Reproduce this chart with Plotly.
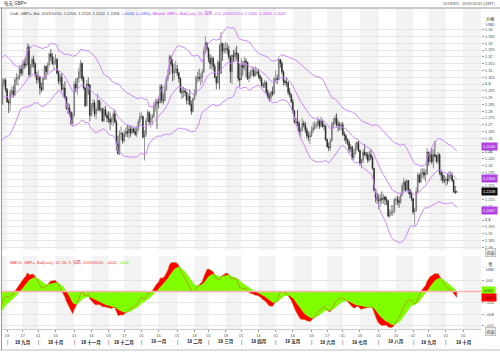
import pandas as pd
import numpy as np
import plotly.graph_objects as go

W, H = 500, 352

# ---------------- DATA (GBP= daily) ----------------
# warm-up closes Jul 2 - Aug 2 2018 (only feed the indicators)
warm_close = [1.3130, 1.3170, 1.3210, 1.3220, 1.3280, 1.3290, 1.3240, 1.3200, 1.3190, 1.3230,
              1.3240, 1.3100, 1.3040, 1.2990, 1.3140, 1.3110, 1.3140, 1.3170, 1.3110, 1.3110,
              1.3130, 1.3120, 1.3130, 1.2990]

c_2018_08 = [1.3000, 1.2930, 1.2935, 1.2890, 1.2820, 1.2765, 1.2790, 1.2750, 1.2700, 1.2720, 1.2730,
             1.2800, 1.2900, 1.2890, 1.2830, 1.2840, 1.2900, 1.2850, 1.3000, 1.3030, 1.2960]
h_2018_08 = [1.3040, 1.3010, 1.2960, 1.2950, 1.2900, 1.2830, 1.2810, 1.2810, 1.2760, 1.2750, 1.2760,
             1.2810, 1.2920, 1.2930, 1.2900, 1.2870, 1.2920, 1.2920, 1.3040, 1.3045, 1.3040]
l_2018_08 = [1.2960, 1.2920, 1.2890, 1.2880, 1.2810, 1.2720, 1.2730, 1.2730, 1.2660, 1.2680, 1.2700,
             1.2720, 1.2790, 1.2860, 1.2810, 1.2790, 1.2830, 1.2830, 1.2850, 1.2980, 1.2940]

c_2018_09 = [1.2870, 1.2860, 1.2940, 1.2950, 1.2920, 1.3030, 1.3040, 1.3050, 1.3110, 1.3080,
             1.3150, 1.3140, 1.3140, 1.3270, 1.3070, 1.3130, 1.3180, 1.3150, 1.3070, 1.3030]
h_2018_09 = [1.2970, 1.2890, 1.2960, 1.2980, 1.2990, 1.3050, 1.3080, 1.3070, 1.3140, 1.3140,
             1.3170, 1.3180, 1.3200, 1.3298, 1.3290, 1.3150, 1.3200, 1.3210, 1.3160, 1.3090]
l_2018_09 = [1.2860, 1.2786, 1.2800, 1.2900, 1.2900, 1.2910, 1.2990, 1.2990, 1.3030, 1.3060,
             1.3060, 1.3110, 1.3120, 1.3140, 1.3050, 1.3060, 1.3120, 1.3120, 1.3050, 1.3000]

c_2018_10 = [1.3050, 1.2970, 1.2960, 1.3040, 1.3130, 1.3090, 1.3140, 1.3220, 1.3200, 1.3150,
             1.3160, 1.3180, 1.3080, 1.3020, 1.3050, 1.2960, 1.2970, 1.2900, 1.2820, 1.2820,
             1.2790, 1.2710, 1.2770]
h_2018_10 = [1.3100, 1.3060, 1.3010, 1.3050, 1.3140, 1.3130, 1.3160, 1.3230, 1.3257, 1.3230,
             1.3200, 1.3220, 1.3190, 1.3100, 1.3070, 1.3080, 1.3000, 1.3020, 1.2910, 1.2860,
             1.2850, 1.2800, 1.2790]
l_2018_10 = [1.3010, 1.2920, 1.2940, 1.2950, 1.3030, 1.3030, 1.3070, 1.3130, 1.3170, 1.3140,
             1.3100, 1.3140, 1.3070, 1.3000, 1.2990, 1.2950, 1.2900, 1.2890, 1.2810, 1.2780,
             1.2770, 1.2696, 1.2700]

c_2018_11 = [1.3000, 1.2970, 1.3040, 1.3090, 1.3150, 1.3040, 1.2970, 1.2840, 1.3000, 1.2990, 1.2770,
             1.2830, 1.2860, 1.2780, 1.2810, 1.2880, 1.2810, 1.2820, 1.2730, 1.2810, 1.2770, 1.2750]
h_2018_11 = [1.3020, 1.3040, 1.3050, 1.3120, 1.3176, 1.3160, 1.3060, 1.2980, 1.3030, 1.3050, 1.3000,
             1.2860, 1.2890, 1.2880, 1.2830, 1.2930, 1.2880, 1.2870, 1.2820, 1.2830, 1.2840, 1.2790]
l_2018_11 = [1.2760, 1.2940, 1.2920, 1.3010, 1.3040, 1.3020, 1.2960, 1.2830, 1.2840, 1.2920, 1.2724,
             1.2760, 1.2800, 1.2760, 1.2740, 1.2800, 1.2800, 1.2790, 1.2720, 1.2720, 1.2760, 1.2720]

c_2018_12 = [1.2740, 1.2720, 1.2740, 1.2780, 1.2720, 1.2560, 1.2490, 1.2630, 1.2640, 1.2580,
             1.2630, 1.2650, 1.2640, 1.2670, 1.2640, 1.2670, 1.2650, 1.2630, 1.2670, 1.2720, 1.2760]
h_2018_12 = [1.2800, 1.2790, 1.2760, 1.2800, 1.2810, 1.2740, 1.2620, 1.2660, 1.2690, 1.2640,
             1.2660, 1.2680, 1.2700, 1.2700, 1.2690, 1.2690, 1.2680, 1.2680, 1.2690, 1.2740, 1.2790]
l_2018_12 = [1.2710, 1.2660, 1.2700, 1.2690, 1.2710, 1.2510, 1.2480, 1.2477, 1.2590, 1.2560,
             1.2570, 1.2610, 1.2610, 1.2600, 1.2610, 1.2630, 1.2640, 1.2620, 1.2610, 1.2650, 1.2700]

c_2019_01 = [1.2760, 1.2610, 1.2630, 1.2730, 1.2790, 1.2720, 1.2750, 1.2760, 1.2840, 1.2870, 1.2860,
             1.2860, 1.2980, 1.2880, 1.2880, 1.2960, 1.3040, 1.3070, 1.3200, 1.3150, 1.3080, 1.3100, 1.3110]
h_2019_01 = [1.2790, 1.2770, 1.2660, 1.2750, 1.2810, 1.2800, 1.2780, 1.2780, 1.2870, 1.2890, 1.2890,
             1.2900, 1.3000, 1.3000, 1.2930, 1.2990, 1.3060, 1.3110, 1.3215, 1.3210, 1.3180, 1.3150, 1.3170]
l_2019_01 = [1.2740, 1.2600, 1.2438, 1.2610, 1.2720, 1.2700, 1.2680, 1.2700, 1.2750, 1.2800, 1.2670,
             1.2820, 1.2860, 1.2860, 1.2850, 1.2870, 1.2950, 1.3020, 1.3070, 1.3130, 1.3020, 1.3030, 1.3080]

c_2019_02 = [1.3080, 1.3040, 1.2940, 1.2940, 1.2950, 1.2940, 1.2880, 1.2910, 1.2850, 1.2800,
             1.2890, 1.2930, 1.3050, 1.3050, 1.3040, 1.3050, 1.3090, 1.3240, 1.3300, 1.3260]
h_2019_02 = [1.3140, 1.3090, 1.3050, 1.2980, 1.2980, 1.2970, 1.2940, 1.2930, 1.2960, 1.2880,
             1.2900, 1.2960, 1.3060, 1.3090, 1.3110, 1.3080, 1.3110, 1.3270, 1.3350, 1.3310]
l_2019_02 = [1.3060, 1.3010, 1.2930, 1.2890, 1.2900, 1.2910, 1.2850, 1.2850, 1.2840, 1.2773,
             1.2790, 1.2880, 1.2910, 1.3010, 1.3020, 1.2990, 1.3010, 1.3080, 1.3220, 1.3240]

c_2019_03 = [1.3190, 1.3150, 1.3190, 1.3130, 1.3050, 1.3010, 1.3160, 1.3080, 1.3300, 1.3240, 1.3260,
             1.3260, 1.3250, 1.3200, 1.3090, 1.3210, 1.3200, 1.3230, 1.3220, 1.3040, 1.3030]
h_2019_03 = [1.3270, 1.3220, 1.3210, 1.3200, 1.3150, 1.3060, 1.3180, 1.3290, 1.3381, 1.3300, 1.3300,
             1.3310, 1.3300, 1.3280, 1.3210, 1.3220, 1.3250, 1.3260, 1.3280, 1.3230, 1.3150]
l_2019_03 = [1.3160, 1.3110, 1.3110, 1.3100, 1.3040, 1.2960, 1.3000, 1.2960, 1.3070, 1.3170, 1.3220,
             1.3230, 1.3220, 1.3180, 1.3010, 1.3000, 1.3160, 1.3170, 1.3180, 1.3020, 1.2978]

c_2019_04 = [1.3140, 1.3120, 1.3170, 1.3160, 1.3040, 1.3060, 1.3090, 1.3100, 1.3060, 1.3080, 1.3090,
             1.3060, 1.3040, 1.2990, 1.2990, 1.3010, 1.2940, 1.2900, 1.2900, 1.2940, 1.2930, 1.3040]
h_2019_04 = [1.3190, 1.3170, 1.3200, 1.3190, 1.3130, 1.3090, 1.3110, 1.3130, 1.3120, 1.3130, 1.3120,
             1.3110, 1.3070, 1.3050, 1.3010, 1.3030, 1.3020, 1.2960, 1.2930, 1.2950, 1.2980, 1.3050]
l_2019_04 = [1.3040, 1.3060, 1.3100, 1.3050, 1.3030, 1.3010, 1.3040, 1.3060, 1.3050, 1.3060, 1.3070,
             1.3040, 1.3020, 1.2980, 1.2970, 1.2970, 1.2930, 1.2890, 1.2870, 1.2880, 1.2910, 1.2920]

c_2019_05 = [1.3040, 1.3030, 1.3180, 1.3150, 1.3090, 1.3020, 1.3010, 1.3010, 1.2940, 1.2920, 1.2870, 1.2800,
             1.2720, 1.2720, 1.2710, 1.2650, 1.2660, 1.2710, 1.2700, 1.2660, 1.2620, 1.2610, 1.2620]
h_2019_05 = [1.3100, 1.3070, 1.3190, 1.3180, 1.3170, 1.3100, 1.3030, 1.3050, 1.3020, 1.2970, 1.2930, 1.2890,
             1.2810, 1.2750, 1.2810, 1.2730, 1.2680, 1.2750, 1.2730, 1.2720, 1.2680, 1.2650, 1.2650]
l_2019_05 = [1.3010, 1.3000, 1.3030, 1.3120, 1.3070, 1.2990, 1.2990, 1.2980, 1.2920, 1.2900, 1.2860, 1.2780,
             1.2710, 1.2700, 1.2690, 1.2630, 1.2610, 1.2650, 1.2680, 1.2640, 1.2600, 1.2580, 1.2559]

c_2019_06 = [1.2660, 1.2680, 1.2700, 1.2700, 1.2730, 1.2690, 1.2730, 1.2690, 1.2690, 1.2590,
             1.2540, 1.2530, 1.2580, 1.2700, 1.2720, 1.2750, 1.2700, 1.2700, 1.2690, 1.2700]
h_2019_06 = [1.2690, 1.2720, 1.2730, 1.2720, 1.2760, 1.2740, 1.2760, 1.2740, 1.2710, 1.2700,
             1.2600, 1.2570, 1.2600, 1.2720, 1.2750, 1.2770, 1.2784, 1.2730, 1.2720, 1.2720]
l_2019_06 = [1.2610, 1.2640, 1.2660, 1.2670, 1.2680, 1.2670, 1.2680, 1.2680, 1.2660, 1.2580,
             1.2530, 1.2506, 1.2510, 1.2580, 1.2670, 1.2700, 1.2680, 1.2650, 1.2660, 1.2660]

c_2019_07 = [1.2630, 1.2620, 1.2590, 1.2570, 1.2520, 1.2540, 1.2460, 1.2490, 1.2530, 1.2570, 1.2510, 1.2420,
             1.2440, 1.2500, 1.2480, 1.2480, 1.2440, 1.2480, 1.2460, 1.2380, 1.2220, 1.2170, 1.2150]
h_2019_07 = [1.2720, 1.2650, 1.2630, 1.2600, 1.2590, 1.2560, 1.2540, 1.2520, 1.2570, 1.2580, 1.2580, 1.2520,
             1.2450, 1.2520, 1.2560, 1.2500, 1.2500, 1.2510, 1.2520, 1.2470, 1.2380, 1.2230, 1.2200]
l_2019_07 = [1.2620, 1.2580, 1.2560, 1.2550, 1.2490, 1.2500, 1.2440, 1.2440, 1.2480, 1.2510, 1.2500, 1.2400,
             1.2380, 1.2420, 1.2470, 1.2450, 1.2420, 1.2430, 1.2440, 1.2370, 1.2210, 1.2130, 1.2119]

c_2019_08 = [1.2140, 1.2160, 1.2150, 1.2170, 1.2150, 1.2140, 1.2030, 1.2050, 1.2060, 1.2060, 1.2150,
             1.2150, 1.2140, 1.2130, 1.2180, 1.2250, 1.2280, 1.2220, 1.2290, 1.2220, 1.2190, 1.2160]
h_2019_08 = [1.2190, 1.2190, 1.2210, 1.2190, 1.2180, 1.2170, 1.2150, 1.2080, 1.2110, 1.2110, 1.2160,
             1.2170, 1.2180, 1.2170, 1.2200, 1.2270, 1.2310, 1.2290, 1.2300, 1.2290, 1.2230, 1.2210]
l_2019_08 = [1.2080, 1.2100, 1.2120, 1.2120, 1.2110, 1.2110, 1.2020, 1.2015, 1.2030, 1.2030, 1.2050,
             1.2110, 1.2110, 1.2090, 1.2120, 1.2180, 1.2210, 1.2210, 1.2210, 1.2190, 1.2160, 1.2140]

c_2019_09 = [1.2060, 1.2070, 1.2210, 1.2330, 1.2280, 1.2350, 1.2350, 1.2330, 1.2340, 1.2500, 1.2430,
             1.2480, 1.2430, 1.2480, 1.2470, 1.2430, 1.2480, 1.2350, 1.2330, 1.2290, 1.2290]
h_2019_09 = [1.2160, 1.2090, 1.2240, 1.2350, 1.2340, 1.2380, 1.2380, 1.2380, 1.2370, 1.2530, 1.2480,
             1.2500, 1.2530, 1.2520, 1.2582, 1.2480, 1.2500, 1.2490, 1.2370, 1.2350, 1.2330]
l_2019_09 = [1.2040, 1.1958, 1.2060, 1.2200, 1.2270, 1.2270, 1.2310, 1.2300, 1.2280, 1.2330, 1.2400,
             1.2420, 1.2410, 1.2380, 1.2460, 1.2420, 1.2410, 1.2330, 1.2290, 1.2270, 1.2270]

c_2019_10 = [1.2300, 1.2290, 1.2330, 1.2330, 1.2290, 1.2210, 1.2204, 1.2208]
h_2019_10 = [1.2320, 1.2340, 1.2360, 1.2360, 1.2350, 1.2300, 1.2250, 1.2218]
l_2019_10 = [1.2250, 1.2260, 1.2280, 1.2300, 1.2280, 1.2200, 1.2190, 1.2202]

# values printed in the chart legends / axis tags
bb_last = [1.2540, 1.2303, 1.2067]
macd_last, signal_last = -0.0022, 0.0002

price_tick_labels = ["1.34", "1.335", "1.33", "1.325", "1.32", "1.315", "1.31", "1.305", "1.3",
                     "1.295", "1.29", "1.285", "1.28", "1.275", "1.27", "1.265", "1.26", "1.255",
                     "1.25", "1.245", "1.24", "1.235", "1.23", "1.225", "1.22", "1.215", "1.21",
                     "1.205", "1.2", "1.195", "1.19", "1.185", "1.18"]
bold_price_labels = ["1.3", "1.25", "1.2"]
covered_price_labels = ["1.255", "1.23", "1.22", "1.205"]   # hidden under the value tags
macd_tick_labels = [".004", "-.004", "-.008", "-.012"]

day_tick_dates = ["2018-09-03", "2018-09-17", "2018-10-01", "2018-10-16", "2018-11-01", "2018-11-16",
                  "2018-12-03", "2018-12-17", "2019-01-01", "2019-01-16", "2019-02-01", "2019-02-18",
                  "2019-03-01", "2019-03-18", "2019-04-01", "2019-04-16", "2019-05-01", "2019-05-16",
                  "2019-06-03", "2019-06-17", "2019-07-01", "2019-07-16", "2019-08-01", "2019-08-16",
                  "2019-09-02", "2019-09-16", "2019-10-01", "2019-10-16"]
month_labels = ["18 九月", "18 十月", "18 十一月", "18 十二月", "19 一月", "19 二月", "19 三月",
                "19 四月", "19 五月", "19 六月", "19 七月", "19 八月", "19 九月", "19 十月"]

# ---------------- assemble ----------------
months = ["2018_08", "2018_09", "2018_10", "2018_11", "2018_12", "2019_01", "2019_02", "2019_03",
          "2019_04", "2019_05", "2019_06", "2019_07", "2019_08", "2019_09", "2019_10"]
g = globals()
start, end = pd.Timestamp("2018-08-03"), pd.Timestamp("2019-10-10")
errs = []
close, high, low = [], [], []
for m in months:
    y, mo = m.split("_")
    ms = max(pd.Timestamp(f"{y}-{mo}-01"), start)
    me = min(pd.Timestamp(f"{y}-{mo}-01") + pd.offsets.MonthEnd(0), end)
    n = len(pd.bdate_range(ms, me))
    for k in "chl":
        if len(g[f"{k}_{m}"]) != n:
            errs.append(f"{k}_{m}: {len(g[f'{k}_{m}'])} vs {n}")
    close += g[f"c_{m}"]; high += g[f"h_{m}"]; low += g[f"l_{m}"]
if errs:
    raise ValueError("; ".join(errs))

dates = pd.bdate_range(start, end)
warm_dates = pd.bdate_range("2018-07-02", "2018-08-02")
opens = [warm_close[-1]] + close[:-1]

allc = pd.Series(warm_close + close, index=warm_dates.append(dates))
mid = allc.ewm(span=20, adjust=False).mean()
sd = np.sqrt(((allc - mid) ** 2).rolling(20, min_periods=1).mean())
upper, lower = mid + 2 * sd, mid - 2 * sd
macd = allc.ewm(span=12, adjust=False).mean() - allc.ewm(span=26, adjust=False).mean()
signal = macd.ewm(span=9, adjust=False).mean()
vis = allc.index >= pd.Timestamp("2018-08-20")
vd = allc.index[vis]

# ---------------- figure ----------------
def py(p):
    return 1 - p / H

def pxx(p):
    return p / W

X0, X1 = pxx(2), pxx(481)
MAIN = [py(250), py(8)]
SUB = [py(329), py(256)]
yr_main = [1.3 - (250 - 84) / 1360.0, 1.3 + (84 - 8) / 1360.0]
yr_sub = [-(329 - 291.5) / 2825.0, (291.5 - 256) / 2825.0]
xrange = ["2018-08-28 18:00", "2019-10-31 12:00"]
rb = [dict(bounds=["sat", "mon"])]

fig = go.Figure()
fig.add_trace(go.Scatter(x=vd, y=macd[vis], mode="lines", line=dict(width=0, color="#ff0000"),
                         fill="tozeroy", fillcolor="#ff0000", xaxis="x2", yaxis="y2", hoverinfo="skip"))
fig.add_trace(go.Scatter(x=vd, y=signal[vis], mode="lines", line=dict(width=0, color="#80ff00"),
                         fill="tozeroy", fillcolor="#80ff00", xaxis="x2", yaxis="y2", hoverinfo="skip"))
fig.add_trace(go.Scatter(x=vd, y=macd[vis], mode="lines", line=dict(width=0.6, color="#d06010"),
                         xaxis="x2", yaxis="y2", hoverinfo="skip"))

for s in (upper, mid, lower):
    fig.add_trace(go.Scatter(x=vd, y=s[vis], mode="lines", line=dict(width=1, color="#cc88ff"),
                             xaxis="x", yaxis="y", hoverinfo="skip"))

fig.add_trace(go.Candlestick(x=dates, open=opens, high=high, low=low, close=close,
                             increasing=dict(line=dict(color="#666666", width=0.7), fillcolor="#b4b4b4"),
                             decreasing=dict(line=dict(color="#222222", width=0.7), fillcolor="#222222"),
                             whiskerwidth=0, xaxis="x", yaxis="y", hoverinfo="skip"))

# alternating half-month bands
month_starts = [d for d in day_tick_dates if d[-2:] in ("01", "02", "03")]
mid_ticks = [d for d in day_tick_dates if d not in month_starts]
band_starts = ["2018-08-16"] + mid_ticks
band_ends = month_starts + ["2019-11-01"]
shapes = []
for a, b in zip(band_starts, band_ends):
    for yd in ("y domain", "y2 domain"):
        shapes.append(dict(type="rect", xref="x", yref=yd, x0=a, x1=b, y0=0, y1=1,
                           fillcolor="#f3f3f3", line=dict(width=0), layer="below"))
# zero line of MACD
shapes.append(dict(type="line", xref="x domain", yref="y2", x0=0, x1=1, y0=0, y1=0,
                   line=dict(color="#ffb0b0", width=1.5)))
# frame lines
shapes.append(dict(type="line", xref="paper", yref="paper", x0=0, x1=1, y0=py(8), y1=py(8),
                   line=dict(color="#999999", width=1)))
shapes.append(dict(type="line", xref="paper", yref="paper", x0=pxx(1.5), x1=pxx(1.5), y0=py(8), y1=py(350),
                   line=dict(color="#999999", width=1)))
shapes.append(dict(type="line", xref="paper", yref="paper", x0=0, x1=1, y0=py(350), y1=py(350),
                   line=dict(color="#bbbbbb", width=1)))

FONT = "Liberation Sans, Noto Sans CJK SC, sans-serif"
ann = []
ann.append(dict(xref="paper", yref="paper", x=pxx(2), y=py(3.5), text="每天 GBP=", showarrow=False,
                xanchor="left", yanchor="middle", font=dict(size=4.5, color="#333333")))
ann.append(dict(xref="paper", yref="paper", x=pxx(497), y=py(3.5), text="2018/8/3 - 2019/10/31 (GMT)",
                showarrow=False, xanchor="right", yanchor="middle", font=dict(size=4, color="#555555")))
chg = close[-1] - opens[-1]
legend_main = (f"Cndl, GBP=, Bid, 2019/10/10, {opens[-1]:.4f}, {high[-1]:.4f}, {low[-1]:.4f}, {close[-1]:.4f}, "
               f"<span style='color:#3344ff'>+{chg:.4f}".replace("+0.", "+.") + ", (+.03%),</span> "
               f"<span style='color:#cc44ff'>BBand, GBP=, Bid(Last), 20, 指数, 2.0, 2019/10/10, "
               f"{bb_last[0]:.4f}, {bb_last[1]:.4f}, {bb_last[2]:.4f}</span>")
ann.append(dict(xref="paper", yref="paper", x=pxx(8), y=py(13), text=legend_main, showarrow=False,
                xanchor="left", yanchor="middle", font=dict(size=4, color="#444444")))
legend_sub = ("<span style='color:#ee3333'>MACD, GBP=, Bid(Last), 12, 26, 9, 指数, 2019/10/10, "
              f"{macd_last:.4f}".replace("-0.", "-.") + ",</span> "
              f"<span style='color:#66dd00'>{signal_last:.4f}".replace("0.", ".") + "</span>")
ann.append(dict(xref="paper", yref="paper", x=pxx(8), y=py(262), text=legend_sub, showarrow=False,
                xanchor="left", yanchor="middle", font=dict(size=4, color="#ee3333")))

ann.append(dict(xref="paper", yref="paper", x=pxx(490), y=py(21), text="价格<br>USD", showarrow=False,
                xanchor="center", yanchor="middle", font=dict(size=4, color="#333333")))
ann.append(dict(xref="paper", yref="paper", x=pxx(490), y=py(266), text="值<br>USD", showarrow=False,
                xanchor="center", yanchor="middle", font=dict(size=4, color="#333333")))
for yy in (252.5, 331):
    ann.append(dict(xref="paper", yref="paper", x=pxx(490), y=py(yy), text="自适", showarrow=False,
                    xanchor="center", yanchor="middle", font=dict(size=4, color="#333333"),
                    bgcolor="#eeeeee", bordercolor="#999999", borderwidth=0.5, borderpad=1))

for v in bb_last:
    ann.append(dict(xref="paper", yref="y", x=X1, y=v, text=f"{v:.4f}", showarrow=False,
                    xanchor="left", yanchor="middle", font=dict(size=4, color="#ffffff"),
                    bgcolor="#b040e0", borderpad=1))
ann.append(dict(xref="paper", yref="y", x=X1, y=close[-1], text=f"{close[-1]:.4f}", showarrow=False,
                xanchor="left", yanchor="middle", font=dict(size=4, color="#ffffff"),
                bgcolor="#111111", borderpad=1))
ann.append(dict(xref="paper", yref="y2", x=X1, y=signal_last, text=f"{signal_last:.4f}".replace("0.", "."),
                showarrow=False, xanchor="left", yanchor="middle", font=dict(size=4, color="#224400"),
                bgcolor="#80ff00", borderpad=1))
ann.append(dict(xref="paper", yref="y2", x=X1, y=macd_last, text=f"{macd_last:.4f}".replace("-0.", "-."),
                showarrow=False, xanchor="left", yanchor="middle", font=dict(size=4, color="#660000"),
                bgcolor="#ff0000", borderpad=1))

for d in month_starts:
    ann.append(dict(xref="x2", yref="paper", x=d, y=py(342), text="|", showarrow=False,
                    xanchor="center", yanchor="middle", font=dict(size=5, color="#333333")))
for d, t in zip(mid_ticks, month_labels):
    ann.append(dict(xref="x2", yref="paper", x=d, y=py(342), text=f"<b>{t}</b>", showarrow=False,
                    xanchor="center", yanchor="middle", font=dict(size=4.5, color="#222222")))

price_tickvals = [float(s) for s in price_tick_labels]
price_ticktext = ["" if s in covered_price_labels else (f"<b>{s}</b>" if s in bold_price_labels else s)
                  for s in price_tick_labels]

fig.update_layout(
    width=W, height=H, margin=dict(l=0, r=0, t=0, b=0),
    paper_bgcolor="white", plot_bgcolor="white", showlegend=False,
    font=dict(family=FONT, size=4, color="#555555"),
    shapes=shapes, annotations=ann,
    xaxis=dict(domain=[X0, X1], anchor="y", range=xrange, rangebreaks=rb, showticklabels=False,
               showgrid=False, zeroline=False, rangeslider=dict(visible=False), ticks=""),
    xaxis2=dict(domain=[X0, X1], anchor="y2", range=xrange, rangebreaks=rb, matches="x",
                tickmode="array", tickvals=day_tick_dates, ticktext=[d[-2:] for d in day_tick_dates],
                ticks="outside", ticklen=2, tickcolor="#999999", tickfont=dict(size=4, color="#555555"),
                showgrid=False, zeroline=False, showline=True, linecolor="#cccccc", linewidth=1),
    yaxis=dict(domain=MAIN, range=yr_main, side="right", tickmode="array", tickvals=price_tickvals,
               ticktext=price_ticktext, ticks="outside", ticklen=2, tickcolor="#999999",
               tickfont=dict(size=4, color="#555555"), gridcolor="#e6e6e6", gridwidth=1,
               zeroline=False, showline=False),
    yaxis2=dict(domain=SUB, range=yr_sub, side="right", tickmode="array",
                tickvals=[float(s) for s in macd_tick_labels], ticktext=macd_tick_labels,
                ticks="outside", ticklen=2, tickcolor="#999999", tickfont=dict(size=4, color="#555555"),
                gridcolor="#e6e6e6", gridwidth=1, zeroline=False, showline=False),
)

fig.write_html("out.html")
